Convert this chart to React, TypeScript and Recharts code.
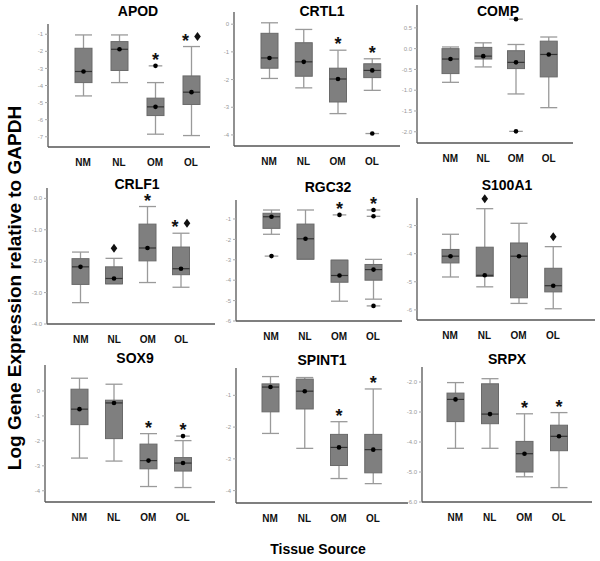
import React from "react";
import { ComposedChart, Bar, XAxis, YAxis } from "recharts";

const CATEGORIES = ["NM", "NL", "OM", "OL"];

// each box: [lower whisker, Q1, median, Q3, upper whisker]
const APOD_BOXES = [
  [-4.61, -3.83, -3.18, -1.82, -1.04],
  [-3.83, -3.12, -1.88, -1.43, -1.04],
  [-6.85, -5.76, -5.25, -4.74, -3.83],
  [-6.93, -5.11, -4.39, -3.44, -1.72],
];
const APOD_OUTLIERS = [[], [], [-2.85], []];
const APOD_MARKS = ["", "", "*", "*♦"];
const APOD_TICKS = [-1, -2, -3, -4, -5, -6, -7];

const CRTL1_BOXES = [
  [-1.96, -1.59, -1.22, -0.33, 0.05],
  [-2.3, -1.88, -1.36, -0.67, -0.19],
  [-3.23, -2.81, -1.98, -1.59, -0.94],
  [-2.39, -1.93, -1.67, -1.43, -1.25],
];
const CRTL1_OUTLIERS = [[], [], [], [-3.95]];
const CRTL1_MARKS = ["", "", "*", "*"];
const CRTL1_TICKS = [0, -1, -2, -3, -4];

const COMP_BOXES = [
  [-0.81, -0.6, -0.25, 0.0, 0.04],
  [-0.44, -0.25, -0.18, 0.03, 0.14],
  [-1.09, -0.48, -0.33, -0.05, 0.1],
  [-1.42, -0.68, -0.14, 0.18, 0.28],
];
const COMP_OUTLIERS = [[], [], [0.71, -1.99], []];
const COMP_MARKS = ["", "", "", ""];
const COMP_TICKS = [0.5, 0, -0.5, -1, -1.5, -2];

const CRLF1_BOXES = [
  [-3.32, -2.74, -2.18, -1.92, -1.71],
  [-2.72, -2.72, -2.55, -2.18, -1.91],
  [-2.68, -1.99, -1.58, -0.82, -0.26],
  [-2.83, -2.43, -2.24, -1.55, -1.11],
];
const CRLF1_OUTLIERS = [[], [], [], []];
const CRLF1_MARKS = ["", "♦", "*", "*♦"];
const CRLF1_TICKS = [0, -1, -2, -3, -4];

const RGC32_BOXES = [
  [-1.75, -1.46, -0.89, -0.72, -0.56],
  [-2.97, -2.97, -1.97, -1.25, -0.56],
  [-5.03, -4.1, -3.77, -3.02, -3.02],
  [-4.93, -4.0, -3.48, -3.23, -2.98],
];
const RGC32_OUTLIERS = [[-2.82], [], [-0.8], [-0.56, -0.87, -5.26]];
const RGC32_MARKS = ["", "", "*", "*"];
const RGC32_TICKS = [-1, -2, -3, -4, -5, -6];

const S100A1_BOXES = [
  [-4.83, -4.33, -4.09, -3.85, -3.31],
  [-5.18, -4.81, -4.77, -3.77, -2.4],
  [-5.77, -5.57, -4.09, -3.62, -2.92],
  [-5.96, -5.36, -5.14, -4.52, -3.75],
];
const S100A1_OUTLIERS = [[], [], [], []];
const S100A1_MARKS = ["", "♦", "", "♦"];
const S100A1_TICKS = [-3, -4, -5, -6];

const SOX9_BOXES = [
  [-2.69, -1.35, -0.73, 0.07, 0.51],
  [-2.81, -1.91, -0.48, -0.37, 0.27],
  [-3.83, -3.12, -2.79, -2.13, -1.71],
  [-3.87, -3.21, -2.89, -2.67, -1.99],
];
const SOX9_OUTLIERS = [[], [], [], [-1.81]];
const SOX9_MARKS = ["", "", "*", "*"];
const SOX9_TICKS = [0, -1, -2, -3, -4];

const SPINT1_BOXES = [
  [-2.2, -1.52, -0.74, -0.64, -0.41],
  [-2.67, -1.43, -0.87, -0.49, -0.44],
  [-3.62, -3.21, -2.64, -2.23, -1.83],
  [-3.78, -3.44, -2.71, -2.23, -0.8],
];
const SPINT1_OUTLIERS = [[], [], [], []];
const SPINT1_MARKS = ["", "", "*", "*"];
const SPINT1_TICKS = [-1, -2, -3, -4];

const SRPX_BOXES = [
  [-4.21, -3.32, -2.58, -2.37, -2.02],
  [-4.21, -3.39, -3.07, -2.06, -1.89],
  [-5.16, -5.0, -4.39, -3.98, -3.06],
  [-5.52, -4.29, -3.81, -3.44, -3.02],
];
const SRPX_OUTLIERS = [[], [], [], []];
const SRPX_MARKS = ["", "", "*", "*"];
const SRPX_TICKS = [-2, -3, -4, -5, -6];

const FONT = "'Liberation Sans', Arial, Helvetica, sans-serif";
const YW = 30;
const XH = 28;
const MT = 30; // room above the plot for the * / ♦ marks

const panels = [
  { title: "APOD", boxes: APOD_BOXES, outliers: APOD_OUTLIERS, marks: APOD_MARKS, ticks: APOD_TICKS, dec: 0,
    domain: [-7.6, -0.4], axisX: 48, top: 24, bottom: 147, right: 210, padL: 17, padR: 1, tx: 138, ty: 11 },
  { title: "CRTL1", boxes: CRTL1_BOXES, outliers: CRTL1_OUTLIERS, marks: CRTL1_MARKS, ticks: CRTL1_TICKS, dec: 0,
    domain: [-4.4, 0.44], axisX: 234, top: 12, bottom: 146, right: 400, padL: 18, padR: 11, tx: 322, ty: 11 },
  { title: "COMP", boxes: COMP_BOXES, outliers: COMP_OUTLIERS, marks: COMP_MARKS, ticks: COMP_TICKS, dec: 1,
    domain: [-2.27, 1.05], axisX: 417, top: 5, bottom: 143, right: 573, padL: 17, padR: 8, tx: 498, ty: 11 },
  { title: "CRLF1", boxes: CRLF1_BOXES, outliers: CRLF1_OUTLIERS, marks: CRLF1_MARKS, ticks: CRLF1_TICKS, dec: 1,
    domain: [-4, 0.33], axisX: 47, top: 188, bottom: 324, right: 215, padL: 17, padR: 17, tx: 137, ty: 184 },
  { title: "RGC32", boxes: RGC32_BOXES, outliers: RGC32_OUTLIERS, marks: RGC32_MARKS, ticks: RGC32_TICKS, dec: 0,
    domain: [-6, -0.07], axisX: 236, top: 200, bottom: 321, right: 402, padL: 18, padR: 12, tx: 328, ty: 187 },
  { title: "S100A1", boxes: S100A1_BOXES, outliers: S100A1_OUTLIERS, marks: S100A1_MARKS, ticks: S100A1_TICKS, dec: 0,
    domain: [-6.36, -2.02], axisX: 417, top: 198, bottom: 320, right: 595, padL: 16, padR: 25, tx: 507, ty: 185 },
  { title: "SOX9", boxes: SOX9_BOXES, outliers: SOX9_OUTLIERS, marks: SOX9_MARKS, ticks: SOX9_TICKS, dec: 0,
    domain: [-4.45, 1.04], axisX: 45, top: 365, bottom: 502, right: 215, padL: 17, padR: 15, tx: 135, ty: 358 },
  { title: "SPINT1", boxes: SPINT1_BOXES, outliers: SPINT1_OUTLIERS, marks: SPINT1_MARKS, ticks: SPINT1_TICKS, dec: 0,
    domain: [-4.39, -0.14], axisX: 236, top: 368, bottom: 503, right: 408, padL: 17, padR: 18, tx: 322, ty: 360 },
  { title: "SRPX", boxes: SRPX_BOXES, outliers: SRPX_OUTLIERS, marks: SRPX_MARKS, ticks: SRPX_TICKS, dec: 1,
    domain: [-6, -1.5], axisX: 422, top: 367, bottom: 502, right: 592, padL: 16, padR: 16, tx: 507, ty: 359 },
];

function Diamond({ cx, cy }: { cx: number; cy: number }) {
  return (
    <polygon
      points={`${cx},${cy - 4.5} ${cx + 3.3},${cy} ${cx},${cy + 4.5} ${cx - 3.3},${cy}`}
      fill="#111"
    />
  );
}

function BoxShape(props: any) {
  const { x, y, width, height, payload } = props;
  const [lo, hi] = payload.range;
  const top = Math.min(y, y + height);
  const bot = Math.max(y, y + height);
  const px = (v: number) => top + ((hi - v) / (hi - lo)) * (bot - top);
  const cx = x + width / 2;
  const [wLo, q1, med, q3, wHi] = payload.box;
  const half = width / 2;
  const oHalf = width * 0.4;
  const markY = px(hi) - 10;
  const mark: string = payload.mark;
  const hasStar = mark.includes("*");
  const hasDiamond = mark.includes("♦");
  const starX = hasDiamond ? cx - 6 : cx;
  const diaX = hasStar ? cx + 6 : cx;
  return (
    <g>
      <line x1={cx} x2={cx} y1={px(wHi)} y2={px(q3)} stroke="#9a9a9a" strokeWidth={1.3} />
      <line x1={cx} x2={cx} y1={px(q1)} y2={px(wLo)} stroke="#9a9a9a" strokeWidth={1.3} />
      <line x1={cx - half} x2={cx + half} y1={px(wHi)} y2={px(wHi)} stroke="#9a9a9a" strokeWidth={1.3} />
      <line x1={cx - half} x2={cx + half} y1={px(wLo)} y2={px(wLo)} stroke="#9a9a9a" strokeWidth={1.3} />
      <rect
        x={cx - half}
        y={px(q3)}
        width={width}
        height={Math.max(px(q1) - px(q3), 0.5)}
        fill="#7f7f7f"
        stroke="#6a6a6a"
        strokeWidth={1}
      />
      <line x1={cx - half} x2={cx + half} y1={px(med)} y2={px(med)} stroke="#333" strokeWidth={1.2} />
      <circle cx={cx} cy={px(med)} r={2.3} fill="#000" />
      {payload.outliers.map((o: number, i: number) => (
        <g key={i}>
          <line x1={cx - oHalf} x2={cx + oHalf} y1={px(o)} y2={px(o)} stroke="#9a9a9a" strokeWidth={1.3} />
          <circle cx={cx} cy={px(o)} r={2.3} fill="#000" />
        </g>
      ))}
      {hasStar && (
        <text x={starX} y={markY + 10} textAnchor="middle" fontSize={18} fontWeight="bold" fontFamily={FONT} fill="#111">
          *
        </text>
      )}
      {hasDiamond && <Diamond cx={diaX} cy={markY} />}
    </g>
  );
}

function Panel({ p }: { p: any }) {
  const data = CATEGORIES.map((name, i) => {
    const box = p.boxes[i];
    const outs = p.outliers[i];
    const all = [...box, ...outs];
    return {
      name,
      box,
      outliers: outs,
      mark: p.marks[i],
      range: [Math.min(...all), Math.max(...all)],
    };
  });
  const width = p.right - p.axisX + YW;
  const height = p.bottom - p.top + XH + MT;
  return (
    <>
      <div style={{ position: "absolute", left: p.axisX - YW, top: p.top - MT }}>
        <ComposedChart
          width={width}
          height={height}
          data={data}
          margin={{ top: MT, right: 0, bottom: 0, left: 0 }}
        >
          <XAxis
            dataKey="name"
            height={XH}
            padding={{ left: p.padL, right: p.padR }}
            axisLine={{ stroke: "#555", strokeWidth: 1.3 }}
            tickLine={false}
            tickMargin={6}
            interval={0}
            tick={{ fontSize: 10, fontWeight: "bold", fill: "#111", fontFamily: FONT }}
          />
          <YAxis
            width={YW}
            type="number"
            domain={p.domain}
            ticks={p.ticks}
            interval={0}
            tickFormatter={(v: number) => v.toFixed(p.dec)}
            axisLine={{ stroke: "#555", strokeWidth: 1.3 }}
            tickLine={{ stroke: "#aaa" }}
            tickSize={3}
            tickMargin={2}
            tick={{ fontSize: 6, fill: "#999", fontFamily: FONT }}
          />
          <Bar dataKey="range" barSize={17} shape={<BoxShape />} isAnimationActive={false} />
        </ComposedChart>
      </div>
      <div
        style={{
          position: "absolute",
          left: p.tx,
          top: p.ty,
          transform: "translate(-50%, -50%)",
          fontFamily: FONT,
          fontWeight: "bold",
          fontSize: 14,
          lineHeight: 1,
          whiteSpace: "nowrap",
        }}
      >
        {p.title}
      </div>
    </>
  );
}

export default function App() {
  return (
    <div
      style={{
        position: "absolute",
        left: 0,
        top: 0,
        width: 600,
        height: 561,
        background: "#fff",
        overflow: "hidden",
      }}
    >
      {panels.map((p) => (
        <Panel key={p.title} p={p} />
      ))}
      <div
        style={{
          position: "absolute",
          left: 14,
          top: 288,
          transform: "translate(-50%, -50%) rotate(-90deg)",
          fontFamily: FONT,
          fontWeight: "bold",
          fontSize: 19,
          whiteSpace: "nowrap",
          lineHeight: 1,
        }}
      >
        Log Gene Expression relative to GAPDH
      </div>
      <div
        style={{
          position: "absolute",
          left: 318,
          top: 549,
          transform: "translate(-50%, -50%)",
          fontFamily: FONT,
          fontWeight: "bold",
          fontSize: 14,
          whiteSpace: "nowrap",
          lineHeight: 1,
        }}
      >
        Tissue Source
      </div>
    </div>
  );
}
